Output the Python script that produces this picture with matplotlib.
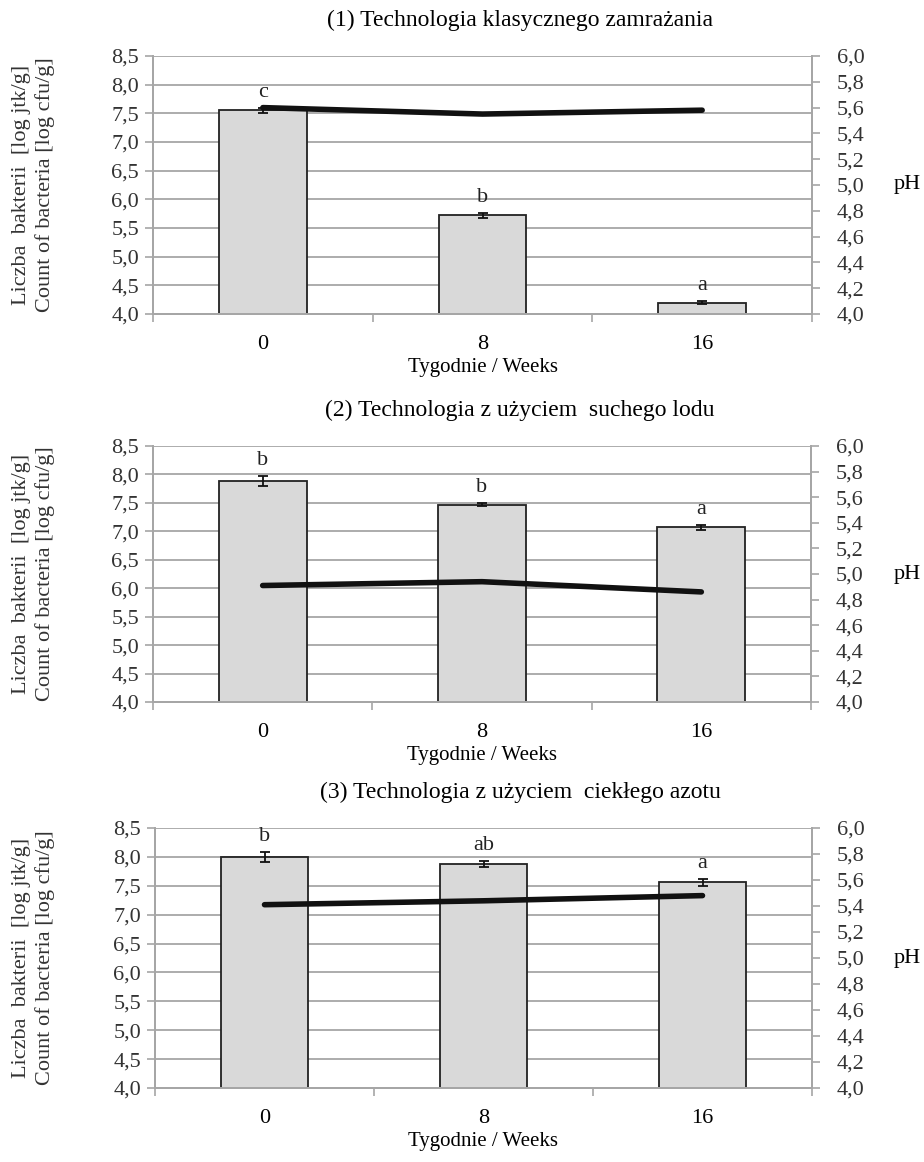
import numpy as np
import matplotlib
matplotlib.use("Agg")
import matplotlib.pyplot as plt
from matplotlib.ticker import FuncFormatter, FixedLocator

plt.rcParams['font.family'] = ['Liberation Serif', 'DejaVu Serif']

# --- data ---
weeks = ["0", "8", "16"]
titles = ["(1) Technologia klasycznego zamrażania",
          "(2) Technologia z użyciem  suchego lodu",
          "(3) Technologia z użyciem  ciekłego azotu"]

count_1 = [7.55, 5.72, 4.20]
err_1 = [0.04, 0.05, 0.03]
letters_1 = ["c", "b", "a"]
ph_1 = [5.60, 5.55, 5.58]

count_2 = [7.89, 7.47, 7.07]
err_2 = [0.09, 0.03, 0.05]
letters_2 = ["b", "b", "a"]
ph_2 = [4.91, 4.94, 4.86]

count_3 = [8.00, 7.88, 7.56]
err_3 = [0.09, 0.05, 0.06]
letters_3 = ["b", "ab", "a"]
ph_3 = [5.41, 5.44, 5.48]

left_ticks = [4.0, 4.5, 5.0, 5.5, 6.0, 6.5, 7.0, 7.5, 8.0, 8.5]
right_ticks = [4.0, 4.2, 4.4, 4.6, 4.8, 5.0, 5.2, 5.4, 5.6, 5.8, 6.0]

GRID = "#a6a6a6"
BAR = "#d9d9d9"
W, H = 924, 1162

comma = FuncFormatter(lambda v, p: f"{v:.1f}".replace(".", ","))


def draw_panel(fig, rect, title, counts, errs, letters, ph):
    ax = fig.add_axes(rect)
    x = np.arange(len(weeks))

    ax.bar(x, counts, width=0.4, color=BAR, edgecolor="#222222", linewidth=1.3, zorder=2)
    ax.errorbar(x, counts, yerr=errs, fmt="none", ecolor="#111111", elinewidth=1.3,
                capsize=3.5, capthick=1.3, zorder=3)
    for xi, c, e, lab in zip(x, counts, errs, letters):
        ax.annotate(lab, (xi, c + e), xytext=(0, 11), textcoords="offset points",
                    ha="center", va="center", fontsize=16, color="#222222")

    ax.set_ylim(4.0, 8.5)
    ax.set_xlim(-0.5, 2.5)
    ax.yaxis.set_major_locator(FixedLocator(left_ticks))
    ax.yaxis.set_major_formatter(comma)
    ax.yaxis.grid(True, color=GRID, linewidth=1.3)
    ax.set_axisbelow(True)

    ax.set_xticks(x)
    ax.set_xticklabels(weeks)
    ax.set_xticks([-0.5, 0.5, 1.5, 2.5], minor=True)
    ax.tick_params(axis="x", which="major", length=0, pad=15, labelsize=16)
    ax.tick_params(axis="x", which="minor", length=6, width=1.2, color=GRID, direction="out")
    ax.tick_params(axis="y", length=6, width=1.2, color=GRID, direction="out",
                   labelsize=16, labelcolor="#333333", pad=4)
    ax.set_xlabel("Tygodnie / Weeks", fontsize=15, labelpad=3)

    for s in ["left", "right", "bottom"]:
        ax.spines[s].set_color(GRID)
        ax.spines[s].set_linewidth(1.3)
    ax.spines["top"].set_visible(False)

    ax2 = ax.twinx()
    ax2.plot(x, ph, color="#111111", linewidth=4, solid_capstyle="round", zorder=4)
    ax2.set_ylim(4.0, 6.0)
    ax2.yaxis.set_major_locator(FixedLocator(right_ticks))
    ax2.yaxis.set_major_formatter(comma)
    ax2.tick_params(axis="y", length=6, width=1.2, color=GRID, direction="out",
                    labelsize=16, labelcolor="#333333", pad=12)
    for s in ["left", "right", "bottom"]:
        ax2.spines[s].set_color(GRID)
        ax2.spines[s].set_linewidth(1.3)
    ax2.spines["top"].set_visible(False)

    # titles / side labels placed in figure pixels
    top_px = H - (rect[1] + rect[3]) * H
    mid = rect[1] + rect[3] / 2
    fig.text(520 / W, 1 - (top_px - 36) / H, title, ha="center", va="center", fontsize=17)
    fig.text(907 / W, mid, "pH", ha="center", va="center", fontsize=16)
    fig.text(22 / W, mid, "Liczba  bakterii  [log jtk/g]", rotation=90,
             ha="center", va="center", fontsize=16, color="#333333")
    fig.text(45 / W, mid, "Count of bacteria [log cfu/g]", rotation=90,
             ha="center", va="center", fontsize=16, color="#333333")
    return ax


fig = plt.figure(figsize=(W / 100, H / 100), dpi=100)

panels = [
    ((153, 56, 812, 314), titles[0], count_1, err_1, letters_1, ph_1),
    ((153, 446, 811, 702), titles[1], count_2, err_2, letters_2, ph_2),
    ((155, 828, 812, 1088), titles[2], count_3, err_3, letters_3, ph_3),
]
for (l, t, r, b), title, cnt, err, lets, ph in panels:
    rect = [l / W, 1 - b / H, (r - l) / W, (b - t) / H]
    draw_panel(fig, rect, title, cnt, err, lets, ph)

fig.savefig("out.png", dpi=100, facecolor="white")
